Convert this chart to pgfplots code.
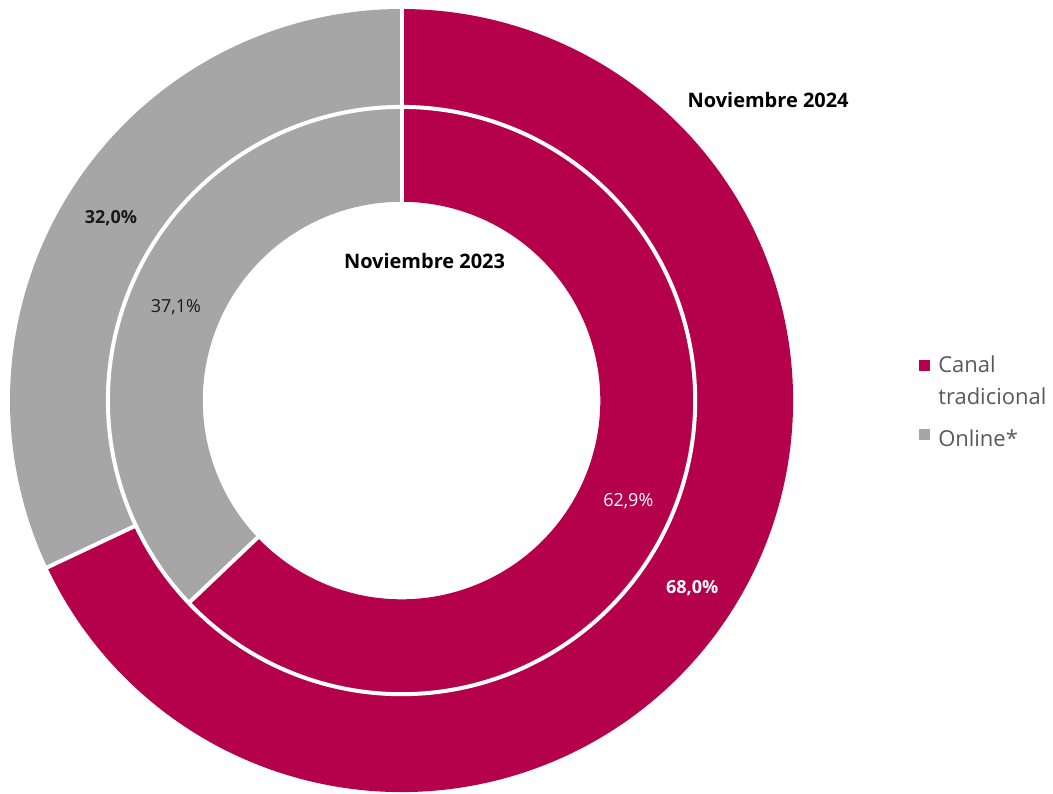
\documentclass[border=0pt]{standalone}
\usepackage{pgfplots}
\pgfplotsset{compat=1.18}
\usepackage{fontspec}
\setmainfont{Open Sans}
\definecolor{crimson}{HTML}{B5004B}
\definecolor{ggray}{HTML}{A6A6A6}
\definecolor{legtext}{HTML}{595959}
\definecolor{lbldark}{HTML}{1A1A1A}
% shares (%)
\def\canalA{68.0}  % Noviembre 2024 (outer ring)
\def\onlineA{32.0}
\def\canalB{62.9}  % Noviembre 2023 (inner ring)
\def\onlineB{37.1}
\pgfmathsetmacro{\endA}{90-3.6*\canalA}
\pgfmathsetmacro{\endB}{90-3.6*\canalB}
\pgfmathsetmacro{\endAo}{\endA+360}
\pgfmathsetmacro{\endBo}{\endB+360}
\begin{document}
\begin{tikzpicture}
\begin{axis}[
  scale only axis, width=789.75pt, height=595.5pt,
  xmin=0, xmax=1053, ymin=0, ymax=794,
  hide axis, clip=false,
  legend style={at={(axis cs:910,443)}, anchor=north west, draw=none, fill=none,
    font=\fontsize{16.5}{19}\selectfont, text=legtext, row sep=5.5pt,
    /tikz/every odd column/.append style={column sep=4.5pt}},
  legend cell align=left,
]
\path (rel axis cs:0,0) rectangle (rel axis cs:1,1);
% legend images first
\addlegendimage{only marks, mark=square*, mark size=3.75pt, mark options={draw=crimson, fill=crimson}}
\addlegendentry{Canal}
\addlegendimage{empty legend}
\addlegendentry{tradicional}
\addlegendimage{only marks, mark=square*, mark size=3.75pt, mark options={draw=ggray, fill=ggray}}
\addlegendentry{\rule{0pt}{21pt}Online*}
% outer ring: Noviembre 2024
\addplot[forget plot, crimson, line width=73.5pt, domain=\endA:90, samples=300] ({402+343*cos(x)},{393+343*sin(x)});
\addplot[forget plot, ggray, line width=73.5pt, domain=90:\endAo, samples=200] ({402+343*cos(x)},{393+343*sin(x)});
% inner ring: Noviembre 2023
\addplot[forget plot, crimson, line width=71.25pt, domain=\endB:90, samples=300] ({402+246.5*cos(x)},{393+246.5*sin(x)});
\addplot[forget plot, ggray, line width=71.25pt, domain=90:\endBo, samples=200] ({402+246.5*cos(x)},{393+246.5*sin(x)});
% separators
\addplot[forget plot, white, line width=3pt, domain=0:360, samples=360] ({402+294*cos(x)},{393+294*sin(x)});
\addplot[forget plot, white, line width=3pt] coordinates {(402,590) (402,787)};
\addplot[forget plot, white, line width=3pt] coordinates {(136.0,267.8) (44.6,224.7)};
\addplot[forget plot, white, line width=3pt] coordinates {(259.0,256.9) (189.0,190.4)};
% labels
\node[font=\fontsize{15}{17}\selectfont\bfseries] at (axis cs:769,694) {Noviembre 2024};
\node[font=\fontsize{15}{17}\selectfont\bfseries] at (axis cs:425,533) {Noviembre 2023};
\node[font=\fontsize{13.5}{15}\selectfont\bfseries, text=lbldark] at (axis cs:111,576) {32,0\%};
\node[font=\fontsize{13.5}{15}\selectfont, text=lbldark] at (axis cs:176,487) {37,1\%};
\node[font=\fontsize{13.5}{15}\selectfont, text=white] at (axis cs:629,292) {62,9\%};
\node[font=\fontsize{13.5}{15}\selectfont\bfseries, text=white] at (axis cs:693,205) {68,0\%};
\end{axis}
\end{tikzpicture}
\end{document}
